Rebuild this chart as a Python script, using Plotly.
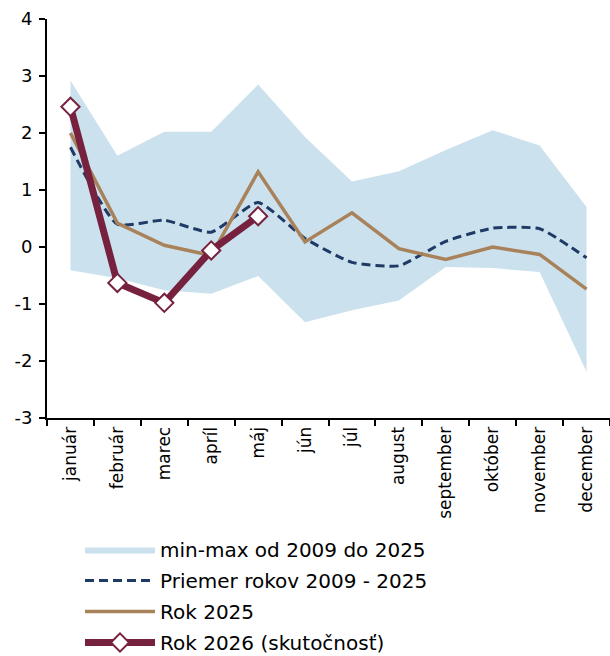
import plotly.graph_objects as go

months = ["január", "február", "marec", "apríl", "máj", "jún", "júl", "august",
          "september", "október", "november", "december"]
band_max = [2.92, 1.60, 2.02, 2.02, 2.85, 1.93, 1.15, 1.33, 1.70, 2.05, 1.78, 0.70]
band_min = [-0.41, -0.55, -0.76, -0.82, -0.51, -1.32, -1.11, -0.94, -0.35, -0.37, -0.44, -2.19]
avg_0925 = [1.75, 0.40, 0.47, 0.26, 0.78, 0.15, -0.27, -0.33, 0.10, 0.33, 0.32, -0.19]
rok_2025 = [2.00, 0.42, 0.03, -0.15, 1.32, 0.09, 0.60, -0.03, -0.22, 0.00, -0.13, -0.74]
rok_2026 = [2.46, -0.63, -0.98, -0.06, 0.54]
y_ticks = [-3, -2, -1, 0, 1, 2, 3, 4]
y_ticktext = ["-3", "-2", "-1", "0", "1", "2", "3", "4"]

BAND = "#cce1ee"
NAVY = "#1f3a64"
TAN = "#a8825a"
MAROON = "#76223f"
FONT = "DejaVu Sans"

fig = go.Figure()
fig.add_trace(go.Scatter(x=months, y=band_min, mode="lines", line=dict(width=0, color=BAND),
                         showlegend=False, hoverinfo="skip", legendgroup="band"))
fig.add_trace(go.Scatter(x=months, y=band_max, mode="lines", line=dict(width=0, color=BAND),
                         fill="tonexty", fillcolor=BAND, name="min-max od 2009 do 2025",
                         legendgroup="band"))
fig.add_trace(go.Scatter(x=months, y=avg_0925, mode="lines",
                         line=dict(color=NAVY, width=3, dash="9px,5px", shape="spline", smoothing=0.5),
                         name="Priemer rokov 2009 - 2025", legendgroup="avg"))
fig.add_trace(go.Scatter(x=months, y=rok_2025, mode="lines",
                         line=dict(color=TAN, width=3.5), name="Rok 2025", legendgroup="r25"))
fig.add_trace(go.Scatter(x=months[:len(rok_2026)], y=rok_2026, mode="lines+markers",
                         line=dict(color=MAROON, width=7),
                         marker=dict(symbol="diamond", size=14, color="white",
                                     line=dict(color=MAROON, width=2)),
                         name="Rok 2026 (skutočnosť)", legendgroup="r26"))

fig.update_layout(
    width=610, height=656,
    margin=dict(l=47, r=0, t=19, b=238, autoexpand=False),
    paper_bgcolor="white", plot_bgcolor="white",
    font=dict(family=FONT, color="black"),
    showlegend=True,
    legend=dict(xref="container", yref="container", x=80 / 610, y=126 / 656,
                xanchor="left", yanchor="top", itemwidth=70, traceorder="grouped",
                font=dict(size=20, family=FONT), tracegroupgap=2,
                bgcolor="rgba(0,0,0,0)"),
    xaxis=dict(type="category", range=[-0.5, 11.5], showline=True, linecolor="black",
               linewidth=2, ticks="outside", tickson="boundaries", ticklen=6,
               tickwidth=2, tickcolor="black", tickangle=-90, showgrid=False,
               tickfont=dict(size=17, family=FONT), zeroline=False),
    yaxis=dict(range=[-3, 4], tickvals=y_ticks, ticktext=y_ticktext, showline=True,
               linecolor="black", linewidth=2, ticklabelstandoff=3,
               ticks="outside", ticklen=6, tickwidth=2, tickcolor="black",
               showgrid=False, zeroline=False, tickfont=dict(size=18, family=FONT)),
)

fig.write_html("out.html", config={"displayModeBar": False},
               post_script="document.body.style.margin='0';")
